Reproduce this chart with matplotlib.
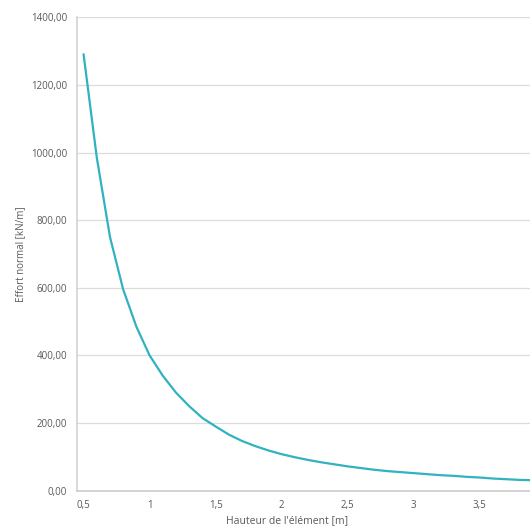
#!/usr/bin/env python3
# -*- coding: utf-8 -*-

"""
Effort normal en fonction de la hauteur de l'élément (courbe type Excel).
"""

import matplotlib
matplotlib.use("Agg")
import matplotlib.pyplot as plt
from matplotlib.ticker import FuncFormatter, MultipleLocator


# hauteurs (m), pas de 0,1
hauteurs = [0.5, 0.6, 0.7, 0.8, 0.9, 1.0, 1.1, 1.2, 1.3, 1.4,
            1.5, 1.6, 1.7, 1.8, 1.9, 2.0, 2.1, 2.2, 2.3, 2.4,
            2.5, 2.6, 2.7, 2.8, 2.9, 3.0, 3.1, 3.2, 3.3, 3.4,
            3.5, 3.6, 3.7, 3.8, 3.9]

# effort normal (kN/m)
effort = [1290, 985, 750, 595, 485, 400, 340, 290, 250, 215,
          190, 166, 147, 132, 119, 108, 99, 91, 84, 78,
          72, 67, 62, 58, 55, 52, 49, 46, 44, 41,
          39, 36, 34, 32, 31]

x_ticks = [0.5, 1, 1.5, 2, 2.5, 3, 3.5]
y_max = 1400
y_step = 200

LINE_COLOR = "#31b2c1"
GRID_COLOR = "#dcdcdc"
TEXT_COLOR = "#595959"
FONT = ["Open Sans", "DejaVu Sans"]


def fr_x(v, _pos):
    # 0,5 / 1 / 1,5 ...
    s = f"{v:g}"
    return s.replace(".", ",")


def fr_y(v, _pos):
    return f"{v:.2f}".replace(".", ",")


def main():
    plt.rcParams["font.family"] = FONT

    W, H, DPI = 530, 526, 100
    fig = plt.figure(figsize=(W / DPI, H / DPI), dpi=DPI)

    # zone de tracé en pixels (bord droit coupé comme sur la capture)
    left_px, right_px = 77, 530
    top_px, bottom_px = 17.3, 490.7
    ax = fig.add_axes([left_px / W, 1 - bottom_px / H,
                       (right_px - left_px) / W, (bottom_px - top_px) / H])

    ax.plot(hauteurs, effort, color=LINE_COLOR, lw=1.6, solid_joinstyle="round")

    # axe "catégorie" : demi-pas avant la première valeur
    ax.set_xlim(0.45, 0.45 + (right_px - left_px) / 132.0)
    ax.set_ylim(0, y_max)

    ax.set_xticks(x_ticks)
    ax.xaxis.set_major_formatter(FuncFormatter(fr_x))
    ax.yaxis.set_major_locator(MultipleLocator(y_step))
    ax.yaxis.set_major_formatter(FuncFormatter(fr_y))

    ax.grid(axis="y", color=GRID_COLOR, lw=0.9)
    ax.set_axisbelow(True)

    for side in ["top", "right"]:
        ax.spines[side].set_visible(False)
    ax.spines["left"].set_color("#d0d0d0")
    ax.spines["left"].set_linewidth(1.1)
    ax.spines["bottom"].set_color("#c8c8c8")
    ax.spines["bottom"].set_linewidth(1.1)

    ax.tick_params(axis="both", length=0, labelsize=7, labelcolor=TEXT_COLOR)
    ax.tick_params(axis="y", pad=7)
    ax.tick_params(axis="x", pad=7)

    fig.text(20.7 / W, 1 - 254 / H, "Effort normal [kN/m]", rotation=90,
             ha="center", va="center", fontsize=7, color=TEXT_COLOR)
    fig.text(287 / W, 1 - 521 / H, "Hauteur de l'élément [m]",
             ha="center", va="center", fontsize=7.5, color=TEXT_COLOR)

    fig.savefig("out.png", dpi=DPI)
    plt.close(fig)


if __name__ == "__main__":
    main()
